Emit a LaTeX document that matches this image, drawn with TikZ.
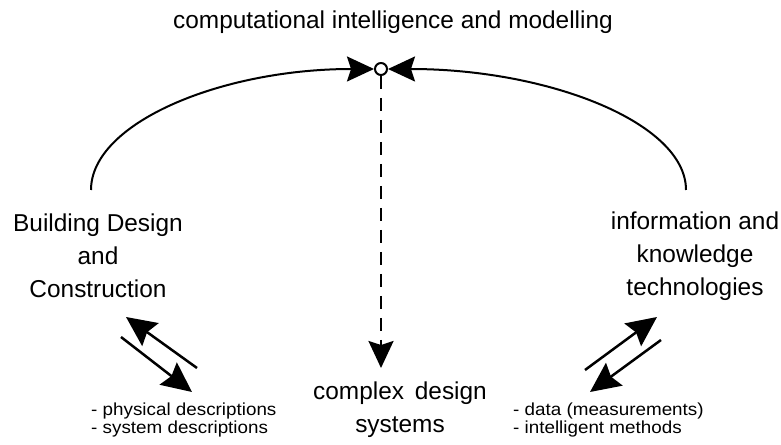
\documentclass[tikz,border=0pt]{standalone}
\usepackage{fontspec}
\setmainfont{Liberation Sans}
\newfontfamily\smallsans[FakeStretch=1.08]{Liberation Sans}
\usetikzlibrary{arrows.meta}

\tikzset{
  bigtxt/.style={font=\fontsize{24.5}{33}\selectfont,align=center,inner sep=0pt},
  smalltxt/.style={font=\smallsans\fontsize{17.5}{17.5}\selectfont,align=left,anchor=west,inner sep=0pt},
  hubtip/.style={-{Stealth[length=27bp,width=25bp,inset=4bp]}},
  bigtip/.style={-{Stealth[length=30bp,width=28bp,inset=4bp]}},
}

\begin{document}
\begin{tikzpicture}[line join=bevel,]
\useasboundingbox (0bp,0bp) rectangle (781bp,445bp);
%%
\node (node_title) at (393bp,423bp) [bigtxt] {computational intelligence and modelling};
  \node (node_hub) at (381bp,376bp) [draw,circle,line width=2bp,minimum size=12bp,inner sep=0pt,fill=white] {};
  \node (node_bdc) at (98bp,189bp) [bigtxt] {Building Design\\and\\Construction};
  \node (node_ikt) at (695bp,189bp) [bigtxt] {information and\\knowledge\\technologies};
  \node (node_cds) at (400bp,35.5bp) [bigtxt] {complex\ \,design\\systems};
  \node (node_phys) at (91bp,25bp) [smalltxt] {- physical descriptions\\- system descriptions};
  \node (node_data) at (513bp,25bp) [smalltxt] {- data (measurements)\\- intelligent methods};
  \coordinate (arc_l) at (91bp,255bp);
  \coordinate (arc_r) at (686bp,255bp);
  \coordinate (dash_end) at (381bp,77bp);
  \coordinate (bl_a) at (197bp,77bp);
  \coordinate (bl_b) at (126bp,128bp);
  \coordinate (bl_c) at (121bp,108bp);
  \coordinate (bl_d) at (192bp,53bp);
  \coordinate (br_a) at (585bp,75bp);
  \coordinate (br_b) at (657bp,128bp);
  \coordinate (br_c) at (661bp,105bp);
  \coordinate (br_d) at (590bp,53bp);
  \draw [black,line width=2bp,hubtip] (arc_l) ..controls (91bp,322bp) and (221bp,376bp)  .. (node_hub);
  \draw [black,line width=2bp,hubtip] (arc_r) ..controls (686bp,322bp) and (549bp,376bp)  .. (node_hub);
  \draw [black,line width=2.5bp,dash pattern=on 13bp off 9bp,hubtip] (node_hub) -- (dash_end);
  \draw [black,line width=2.5bp,bigtip] (bl_a) -- (bl_b);
  \draw [black,line width=2.5bp,bigtip] (bl_c) -- (bl_d);
  \draw [black,line width=2.5bp,bigtip] (br_a) -- (br_b);
  \draw [black,line width=2.5bp,bigtip] (br_c) -- (br_d);
%
\end{tikzpicture}
\end{document}
